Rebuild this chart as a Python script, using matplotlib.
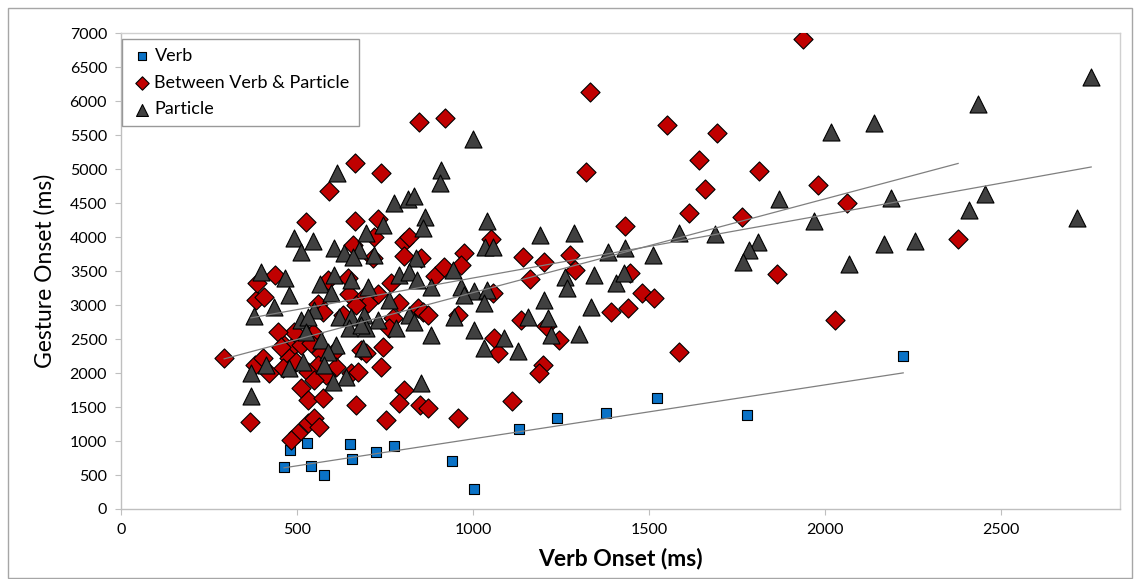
import numpy as np
import matplotlib
matplotlib.use("Agg")
import matplotlib.pyplot as plt
from matplotlib.patches import Rectangle

plt.rcParams['font.family'] = ['Lato', 'DejaVu Sans']

# Verb (blue squares)
verb_x = [463, 480, 528, 540, 577, 650, 656, 724, 776, 940, 1003, 1130, 1239, 1378, 1524, 1777, 2222]
verb_y = [618, 868, 970, 632, 500, 956, 735, 838, 926, 710, 290, 1176, 1338, 1412, 1632, 1382, 2250]

# Between Verb & Particle (red diamonds)
betw_x = [665, 739, 590, 526, 665, 730, 719, 659, 804, 818, 804, 852, 716, 975, 966, 892, 918, 588, 645, 767, 648, 730, 690,
          702, 668, 559, 574, 631, 790, 773, 761, 844, 858, 872, 957, 491, 545, 463, 483, 511, 540, 477, 497, 460, 568, 605,
          559, 531, 611, 582, 548, 653, 673, 682, 744, 739, 696, 511, 531, 574, 668, 804, 790, 849, 872, 753, 957, 531, 548,
          562, 503, 483,
          1321, 1432, 1142, 1202, 1276, 1290, 1162, 1446, 1480, 1514, 1051, 1057,
          1392, 1440, 1136, 1207, 1244, 1060, 1071, 1199, 1188, 1111, 1585,
          847, 920, 1332, 1551,
          1937, 1693, 1642, 1812, 1659, 1980, 1614, 2062, 1764, 2378, 1864, 2028,
          293, 366, 383, 406, 386, 438, 380, 403, 420, 446, 455]
betw_y = [5088, 4941, 4676, 4221, 4235, 4265, 4000, 3882, 3926, 4000, 3720, 3690, 3690, 3765, 3588, 3426, 3559, 3368, 3397,
          3324, 3162, 3162, 3118,
          3029, 3000, 3015, 2897, 2853, 3029, 2809, 2662, 2956, 2897, 2853, 2853, 2603, 2588, 2412, 2368, 2412, 2441, 2221,
          2162, 2074, 2294, 2309, 2118, 2015, 2088, 1971, 1897, 2000, 2015, 2338, 2382, 2088, 2294, 1779, 1603, 1632, 1529,
          1750, 1559, 1529, 1485, 1309, 1338, 1265, 1338, 1206, 1118, 1015,
          4956, 4162, 3706, 3632, 3735, 3515, 3382, 3471, 3176, 3103, 3970, 3176,
          2897, 2956, 2779, 2691, 2485, 2515, 2294, 2118, 2000, 1588, 2309,
          5691, 5750, 6132, 5647,
          6912, 5529, 5132, 4970, 4706, 4765, 4353, 4500, 4294, 3970, 3456, 2780,
          2221, 1279, 3074, 3118, 3324, 3441, 2120, 2221, 2000, 2603, 2382]

# Particle (gray triangles)
part_x = [614, 909, 906, 1000, 776, 815, 832, 864, 858, 491, 545, 511, 696, 744, 605, 634, 676, 659, 719, 838, 790, 818,
          841, 943, 881, 466, 565, 605, 653, 597, 702, 966, 1003, 477,
          548, 511, 531, 619, 653, 690, 730, 648, 696, 682, 761, 818, 832, 781, 881, 946, 974, 1003, 526, 568, 611, 588,
          517, 477, 577, 639, 602, 688, 852,
          1040, 1034, 1057, 1190, 1287, 1383, 1432, 1511, 1585, 1261, 1267, 1344, 1406, 1429, 1040, 1202,
          1335, 1031, 1156, 1213, 1222, 1088, 1031, 1128, 1301,
          2756, 2435, 2139, 2017, 1869, 2188, 2455, 2409, 1969, 2716, 1688, 1810, 1784, 1767, 2068, 2168, 2256,
          398, 378, 369, 369, 412, 435]
part_y = [4941, 4985, 4794, 5441, 4500, 4559, 4603, 4294, 4132, 3985, 3941, 3779, 4059, 4176, 3838, 3765, 3809, 3706, 3735,
          3690, 3441, 3485, 3368, 3515, 3265, 3397, 3309, 3441, 3368, 3176, 3265, 3265, 3206, 3147,
          2926, 2779, 2824, 2824, 2824, 2853, 2779, 2662, 2662, 2706, 3074, 2853, 2750, 2662, 2559, 2824, 3147, 2632, 2603,
          2485, 2412, 2309, 2162, 2074, 2118, 1941, 1868, 2368, 1853,
          4235, 3853, 3853, 4029, 4059, 3779, 3838, 3735, 4059, 3412, 3250, 3441, 3324, 3471, 3221, 3074,
          2971, 3029, 2824, 2809, 2559, 2515, 2368, 2324, 2574,
          6353, 5956, 5676, 5544, 4559, 4573, 4632, 4397, 4235, 4279, 4044, 3926, 3809, 3632, 3603, 3897, 3941,
          3485, 2838, 2000, 1662, 2118, 2971]

xticks = [0, 500, 1000, 1500, 2000, 2500]
yticks = list(range(0, 7001, 500))

fig = plt.figure(figsize=(11.34, 5.79), dpi=100)
ax = fig.add_axes([0.1067, 0.1209, 0.881, 0.822])

fig.patches.append(Rectangle((8 / 1134, 0.002), 1124 / 1134, 570 / 579, transform=fig.transFigure,
                             fill=False, edgecolor='#a6a6a6', linewidth=1.0))

ax.scatter(verb_x, verb_y, marker='s', s=62, facecolor='#0a72c6', edgecolor='black', linewidth=0.8,
           label='Verb', zorder=3)
ax.scatter(betw_x, betw_y, marker='D', s=95, facecolor='#c00000', edgecolor='black', linewidth=0.8,
           label='Between Verb & Particle', zorder=3)
ax.scatter(part_x, part_y, marker='^', s=150, facecolor='#404040', edgecolor='black', linewidth=0.8,
           label='Particle', zorder=3)

# linear trendlines, drawn over each series' x range
for xs, ys in [(verb_x, verb_y), (betw_x, betw_y), (part_x, part_y)]:
    xs = np.array(xs, dtype=float)
    ys = np.array(ys, dtype=float)
    k, b = np.polyfit(xs, ys, 1)
    xx = np.array([xs.min(), xs.max()])
    ax.plot(xx, k * xx + b, color='#7f7f7f', linewidth=0.9, zorder=4)

ax.set_xlim(0, 2838)
ax.set_ylim(0, 7000)
ax.set_xticks(xticks)
ax.set_yticks(yticks)
ax.tick_params(axis='both', direction='out', length=4, color='#bfbfbf', labelsize=11.5, pad=6)
for sp in ax.spines.values():
    sp.set_color('#d0d0d0')
    sp.set_linewidth(1.0)
for sp in ['left', 'bottom']:
    ax.spines[sp].set_color('#bfbfbf')

ax.set_ylabel('Gesture Onset (ms)', fontsize=16.5, labelpad=10)
ax.set_xlabel('Verb Onset (ms)', fontsize=16.5, fontweight='bold', labelpad=8)

leg = ax.legend(loc='upper left', bbox_to_anchor=(0.001, 0.988), fontsize=13, frameon=True, fancybox=False,
                edgecolor='#808080', handletextpad=0.1, borderpad=0.5, labelspacing=0.6, markerscale=0.7,
                handlelength=1.2, borderaxespad=0)
leg.get_frame().set_linewidth(1.0)

fig.savefig('out.png', dpi=100)
